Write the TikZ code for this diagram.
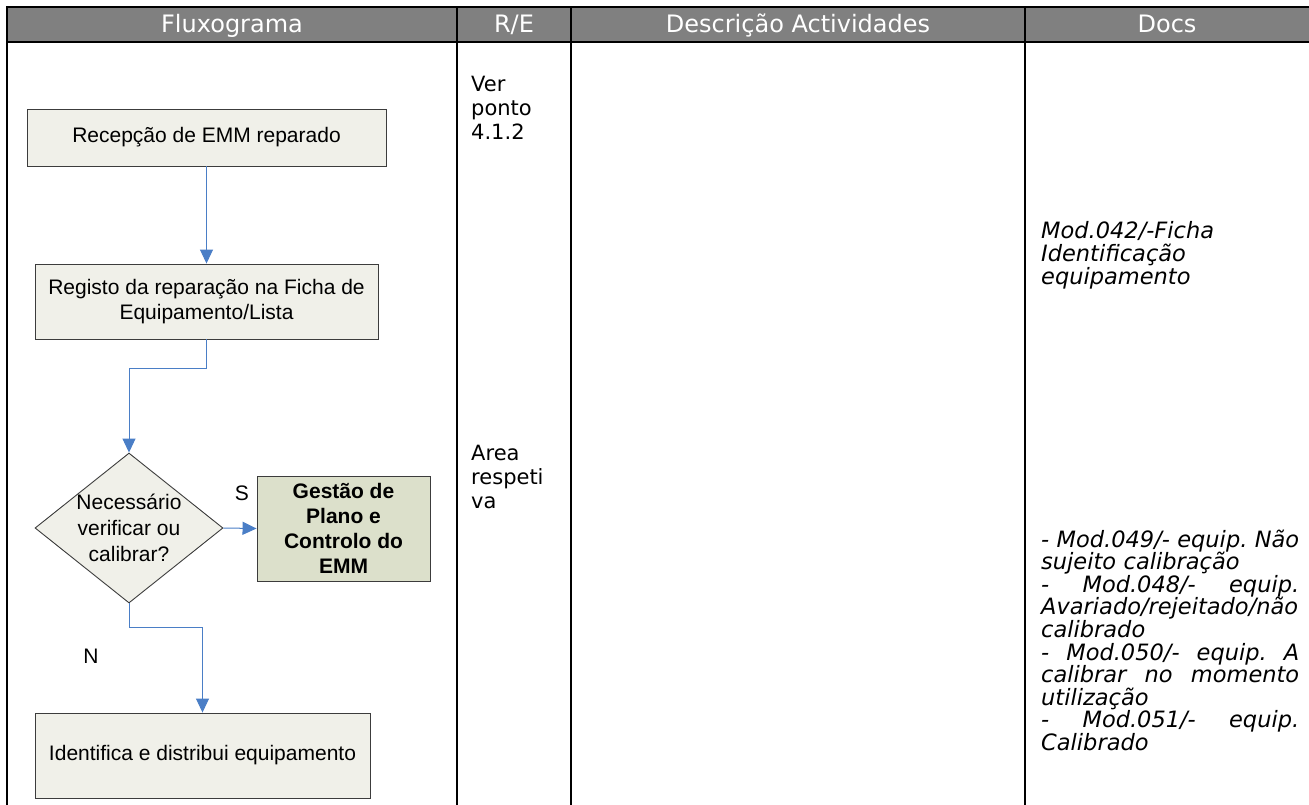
\documentclass[tikz,border=0pt]{standalone}
\usepackage{fontspec}
\setmainfont{Liberation Sans}
\newfontfamily\verd{DejaVu Sans}
\usetikzlibrary{shapes.geometric,arrows.meta}
\definecolor{headgray}{HTML}{808080}
\definecolor{boxfill}{HTML}{F0F0E9}
\definecolor{greenfill}{HTML}{DCE0CB}
\definecolor{boxline}{HTML}{3C3C3C}
\definecolor{flowblue}{HTML}{4A7EC6}
\tikzset{
  tabline/.style={line width=2.6pt, black},
  headtxt/.style={anchor=base, inner sep=0pt, text=white, font=\verd\fontsize{24}{28}\selectfont},
  procbox/.style={draw=boxline, line width=0.9pt, fill=boxfill, inner sep=0pt, align=center,
     font=\fontsize{21}{25.5}\selectfont},
  greenbox/.style={procbox, fill=greenfill, font=\bfseries\fontsize{21}{25}\selectfont},
  decision/.style={diamond, draw=boxline, line width=0.9pt, fill=boxfill, inner sep=0pt},
  conn/.style={draw=flowblue, line width=1pt, -{Triangle[length=14pt,width=13pt]}},
  lbl/.style={inner sep=0pt, font=\fontsize{21}{26}\selectfont},
  retxt/.style={anchor=base west, inner sep=0pt, text width=90pt, align=left,
     font=\verd\fontsize{21}{24}\selectfont},
  doctxt/.style={anchor=base west, inner sep=0pt, text width=259pt, align=left,
     font=\verd\itshape\fontsize{22.5}{22.6}\selectfont},
}
\newcommand\jline[1]{\leavevmode\hbox to 258pt{#1}}
\begin{document}
\begin{tikzpicture}[x=1pt,y=-1pt]
\useasboundingbox (0,0) rectangle (1309,805);
% table frame
\fill[headgray] (7,7) rectangle (1309,42);
\draw[tabline] (1309,7) -- (7,7) -- (7,805);
\draw[tabline] (7,42) -- (1309,42);
\draw[tabline] (457,7) -- (457,805);
\draw[tabline] (571,7) -- (571,805);
\draw[tabline] (1025,7) -- (1025,805);
% header
\node[headtxt] (h1) at (232,33) {Fluxograma};
\node[headtxt] (h2) at (514,33) {R/E};
\node[headtxt] (h3) at (798,33) {Descrição Actividades};
\node[headtxt] (h4) at (1167,33) {Docs};
% flowchart
\node[procbox, minimum width=359pt, minimum height=57pt] (b1) at (206.5,137.5) {Recepção de EMM reparado};
\node[procbox, minimum width=343pt, minimum height=75pt] (b2) at (206.5,301.5) {Registo da reparação na Ficha de\\Equipamento/Lista};
\node[decision, minimum width=188pt, minimum height=150pt] (d) at (129,528) {};
\node[lbl, align=center] (dt) at (d.center) {Necessário\\verificar ou\\calibrar?};
\node[greenbox, minimum width=173pt, minimum height=105pt] (g) at (343.5,528.5) {Gestão de\\Plano e\\Controlo do\\EMM};
\node[procbox, minimum width=335pt, minimum height=85pt] (b4) at (202.5,755.5) {Identifica e distribui equipamento};
\draw[conn] (b1) -- (b2);
\draw[conn] (b2.south) -- ++(0,29) -| (d.north);
\draw[conn] (d.east) -- (g.west);
\draw[conn] (d.south) -- ++(0,24) -| (b4.north);
\node[lbl] (s) at (242,493) {S};
\node[lbl] (n) at (91,656) {N};
% R/E column
\node[retxt] (r1) at (471,92) {Ver\\ponto\\4.1.2};
\node[retxt] (r2) at (471,460) {Area\\respeti\\va};
% Docs column
\node[doctxt] (dc1) at (1041,239) {Mod.042/-Ficha\\Identificação\\equipamento};
\node[doctxt] (dc2) at (1041,547) {\jline{-\hfill Mod.049/-\hfill equip.\hfill Não}\\
sujeito calibração\\
\jline{-\hfill Mod.048/-\hfill equip.}\\
Avariado/rejeitado/não\\
calibrado\\
\jline{-\hfill Mod.050/-\hfill equip.\hfill A}\\
\jline{calibrar\hfill no\hfill momento}\\
utilização\\
\jline{-\hfill Mod.051/-\hfill equip.}\\
Calibrado};
\end{tikzpicture}
\end{document}
